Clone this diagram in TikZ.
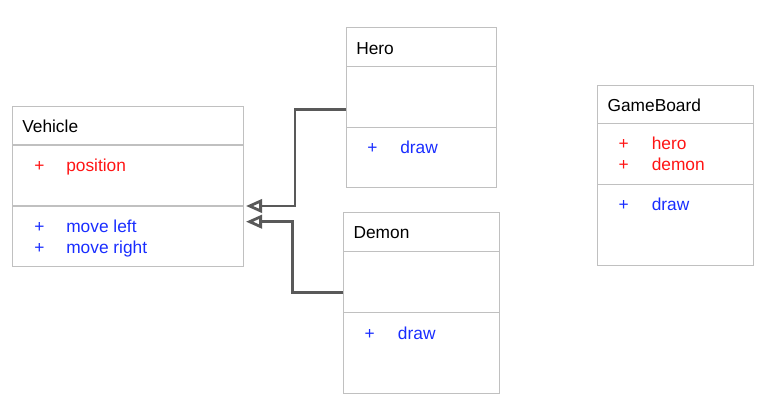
\documentclass[tikz,border=0pt]{standalone}
\usepackage{fontspec}
\setmainfont{Liberation Sans}
\usetikzlibrary{arrows.meta}
\definecolor{boxgray}{RGB}{192,192,192}
\definecolor{linkgray}{RGB}{89,89,89}
\definecolor{attrred}{RGB}{255,20,20}
\definecolor{opblue}{RGB}{25,45,255}
\begin{document}
\begin{tikzpicture}[x=0.75pt,y=-0.75pt,
  classbox/.style={draw=boxgray,line width=0.8pt,anchor=north west,inner sep=0pt},
  divider/.style={draw=boxgray,line width=0.8pt},
  label/.style={anchor=base west,inner sep=0pt,font=\fontsize{13pt}{15pt}\selectfont},
  attr/.style={label,text=attrred},
  op/.style={label,text=opblue},
  inherit/.style={draw=linkgray,line width=2.1pt,-{Triangle[open,length=12pt,width=10pt]}}]
\useasboundingbox (0,0) rectangle (771,413);
% classes
\node[classbox,minimum width=173.25pt,minimum height=120pt] (Vehicle) at (12,106) {};
\node[classbox,minimum width=112.3pt,minimum height=119.6pt] (Hero) at (346,27.3) {};
\node[classbox,minimum width=116.8pt,minimum height=135.3pt] (Demon) at (343.3,212.3) {};
\node[classbox,minimum width=116.5pt,minimum height=135.2pt] (GameBoard) at (597.3,84.7) {};
\draw[divider] (Vehicle.west |- 0,145) -- (Vehicle.east |- 0,145);
\draw[divider] (Vehicle.west |- 0,206) -- (Vehicle.east |- 0,206);
\draw[divider] (Hero.west |- 0,66.7) -- (Hero.east |- 0,66.7);
\draw[divider] (Hero.west |- 0,127.3) -- (Hero.east |- 0,127.3);
\draw[divider] (Demon.west |- 0,251.7) -- (Demon.east |- 0,251.7);
\draw[divider] (Demon.west |- 0,312.7) -- (Demon.east |- 0,312.7);
\draw[divider] (GameBoard.west |- 0,123.3) -- (GameBoard.east |- 0,123.3);
\draw[divider] (GameBoard.west |- 0,184.3) -- (GameBoard.east |- 0,184.3);
% Vehicle
\node[label] (VehicleName) at (22,132.7) {Vehicle};
\node[attr] (VehicleP1) at (34,171.7) {+};
\node[attr] (VehicleA1) at (66,171.7) {position};
\node[op] (VehicleP2) at (34,232.7) {+};
\node[op] (VehicleM1) at (66,232.7) {move left};
\node[op] (VehicleP3) at (34,253.3) {+};
\node[op] (VehicleM2) at (66,253.3) {move right};
% Hero
\node[label] (HeroName) at (356,54.3) {Hero};
\node[op] (HeroP1) at (367,154) {+};
\node[op] (HeroM1) at (400,154) {draw};
% Demon
\node[label] (DemonName) at (353.3,239) {Demon};
\node[op] (DemonP1) at (364.4,339.4) {+};
\node[op] (DemonM1) at (397.7,339.4) {draw};
% GameBoard
\node[label] (GameBoardName) at (607.3,111.4) {GameBoard};
\node[attr] (GameBoardP1) at (618.4,150) {+};
\node[attr] (GameBoardA1) at (651.5,150) {hero};
\node[attr] (GameBoardP2) at (618.4,170.7) {+};
\node[attr] (GameBoardA2) at (651.5,170.7) {demon};
\node[op] (GameBoardP3) at (618.4,211) {+};
\node[op] (GameBoardM1) at (651.5,211) {draw};
% inheritance
\coordinate (VehicleIn1) at (246,206);
\coordinate (VehicleIn2) at (246,221.7);
\draw[inherit] ([yshift=-1.7pt]Hero.west) -- ++(-51,0) |- (VehicleIn1);
\draw[inherit] ([yshift=8.1pt]Demon.west) -- ++(-50.5,0) |- (VehicleIn2);
\end{tikzpicture}
\end{document}
